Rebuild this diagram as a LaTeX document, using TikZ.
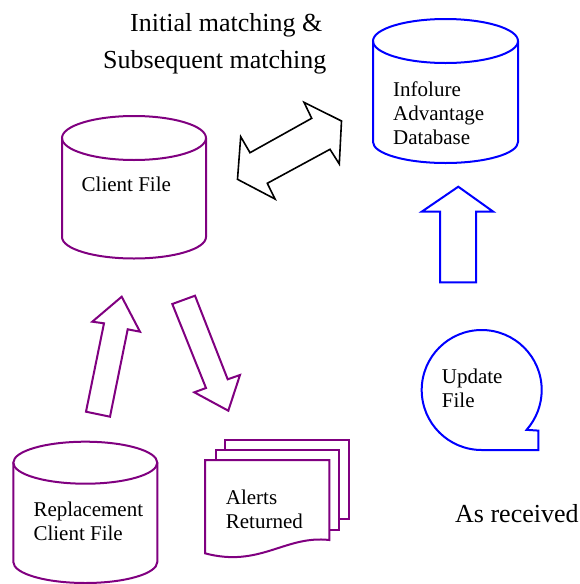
\documentclass[tikz,border=0pt]{standalone}
\usepackage{fontspec}
\setmainfont{Liberation Serif}
\definecolor{vpurple}{RGB}{128,0,128}
\definecolor{vblue}{RGB}{0,0,255}
\begin{document}
\begin{tikzpicture}[x=1pt,y=-1pt,
  purpleline/.style={draw=vpurple,line width=2pt,line join=miter},
  blueline/.style={draw=vblue,line width=2pt,line join=miter},
  blackline/.style={draw=black,line width=1.6pt,line join=miter},
  small/.style={font=\fontsize{21}{24}\selectfont,inner sep=0pt,align=left,anchor=base west},
  big/.style={font=\fontsize{26}{30}\selectfont,inner sep=0pt,anchor=base west}]
\useasboundingbox (0,0) rectangle (579,584);
% Client File cylinder
\draw[purpleline] (62,138) -- (62,237) arc[start angle=180,end angle=0,x radius=72,y radius=21.5] -- (206,138);
\draw[purpleline] (134,138) ellipse[x radius=72,y radius=22];
\node[small] (client) at (81.5,191.5) {Client File};
% Infolure cylinder
\draw[blueline] (373,41) -- (373,142) arc[start angle=180,end angle=0,x radius=72.5,y radius=21] -- (518,41);
\draw[blueline] (445.5,41) ellipse[x radius=72.5,y radius=22];
\node[small] (infolure) at (393,144) {Infolure\\Advantage\\Database};
% Replacement cylinder
\draw[purpleline] (13.3,462.7) -- (13.3,562) arc[start angle=180,end angle=0,x radius=72,y radius=21] -- (157.3,462.7);
\draw[purpleline] (85.3,462.7) ellipse[x radius=72,y radius=21];
\node[small] (repl) at (33.3,540) {Replacement\\Client File};
% Double arrow
\draw[blackline] (237.5,179.3) -- (240.7,136.7) -- (250,152.7) -- (311.7,118.3) -- (304,102.3) -- (341.5,121) -- (339.3,164) -- (330,149.3) -- (267.3,183.3) -- (275,199) -- cycle;
% Up arrow purple
\draw[purpleline] (121.7,296.7) -- (140,331.7) -- (127.7,329.3) -- (110,416.7) -- (86,411.7) -- (104,323.3) -- (92.3,321.7) -- cycle;
% Down arrow purple
\draw[purpleline] (172.3,304) -- (195,295.7) -- (227.7,379.3) -- (240,375) -- (228.3,410.7) -- (194.3,392.3) -- (206,388) -- cycle;
% Blue up arrow
\draw[blueline] (458.3,186.7) -- (493.3,211.7) -- (476,211.7) -- (476,282.3) -- (440,282.3) -- (440,211.7) -- (421.7,211.7) -- cycle;
% Update File (sequential storage)
\draw[blueline] (481.7,450) arc[start angle=90,end angle=401.6,radius=60] -- (538.3,430.6) -- (538.3,450) -- cycle;
\node[small] (update) at (441.7,407) {Update\\File};
% Alerts Returned multi-document
\draw[purpleline] (225,450) -- (225,440) -- (349.3,440) -- (349.3,519.3) -- (339,519.3);
\draw[purpleline] (215.7,460) -- (215.7,450) -- (339,450) -- (339,530) -- (329.3,530);
\draw[purpleline] (205,460) -- (329.3,460) -- (329.3,540) .. controls (285,535) and (260,568) .. (205,553.3) -- cycle;
\node[small] (alerts) at (225.7,528) {Alerts\\Returned};
% Titles
\node[big] (t1) at (130,31) {Initial matching \&};
\node[big] (t2) at (103,68) {Subsequent matching};
\node[big] (asrec) at (455,522) {As received};
\end{tikzpicture}
\end{document}
